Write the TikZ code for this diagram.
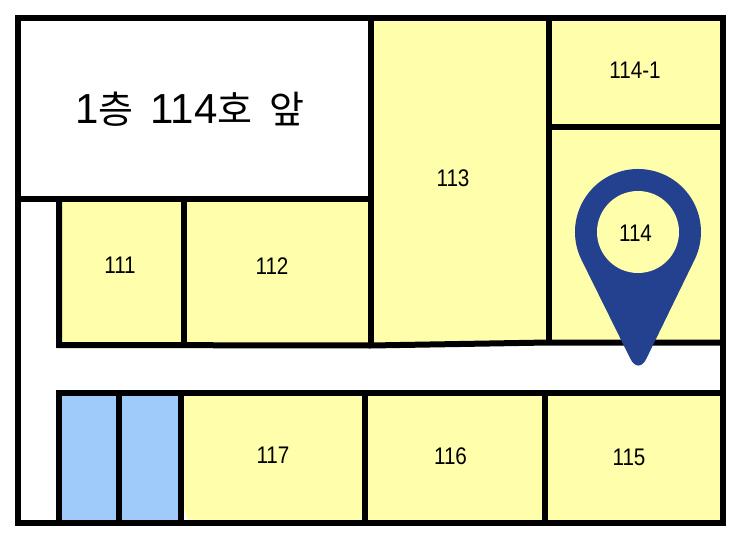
\documentclass[tikz,border=0pt]{standalone}
\usepackage{fontspec}
\usetikzlibrary{calc}
\setmainfont{Liberation Sans}[FakeStretch=0.86]
\newfontfamily\titlefont{Liberation Sans}
\newfontfamily\cjk{Noto Sans CJK KR}
\definecolor{roomyellow}{HTML}{FFFEAB}
\definecolor{roomblue}{HTML}{9FCBFB}
\definecolor{pinblue}{HTML}{24418F}
\tikzset{
	wall/.style={draw=black,line width=6pt,line join=miter},
	roomlabel/.style={inner sep=0pt,font=\fontsize{24}{24}\selectfont},
}
\newcommand{\hangul}[1]{{\cjk\fontsize{38}{38}\selectfont #1}}

\begin{document}
\begin{tikzpicture}[x=1pt,y=1pt]
	\useasboundingbox (0,0) rectangle (746,539);
	\coordinate (pin) at (638,307);
	\coordinate (pinstart) at ($(pin)+(206:63)$);
	\coordinate (tip) at (638.4,164);

	%room fills
	\fill[roomyellow] (370,520.5) -- (722.5,520.5) -- (722.5,196.5) -- (548,196.5) -- (370.5,194) -- cycle;
	\fill[roomyellow] (59,340) rectangle (370.5,194.5);
	\fill[roomyellow] (181,146.3) -- (722.5,146.3) -- (722.5,16) -- (190,16) .. controls (185,24) and (183.5,32) .. (183,39) -- (181,39) -- cycle;
	\fill[roomblue] (58.5,146.3) rectangle (181,16);

	%outer walls
	\draw[wall] (17.5,520.5) rectangle (722.5,16);

	%upper walls
	\draw[wall] (17.5,340) -- (370.5,340);
	\draw[wall] (370.5,520.5) -- (370.5,194);
	\draw[wall] (548.5,520.5) -- (548.5,196.5);
	\draw[wall] (548.5,411.5) -- (722.5,411.5);
	\draw[wall] (59,340) -- (59,194) -- (370.5,193.5) -- (548.5,196.5) -- (722.5,196.5);
	\draw[wall] (184,340) -- (184,194);

	%lower walls
	\draw[wall] (58.5,16) -- (58.5,146.3) -- (722.5,146.3);
	\foreach \i in {118.7,181,364.5,544.7}{
		\draw[wall] (\i,146.3) -- (\i,16);
	}

	%pin
	\fill[pinblue] (pinstart) arc[radius=63,start angle=206,end angle=-26] [rounded corners=18pt] -- (tip) [sharp corners] -- (pinstart) -- cycle;
	\fill[roomyellow] (pin) circle[radius=41];

	\foreach \x/\y/\t in {635/469/114-1,453/360.5/113,635.5/305.5/114,120/274/111,272/273/112,273/84/117,450.5/82.5/116,629/82/115}{
		\node[roomlabel] (room\t) at (\x,\y) {\t};
	}
	\node[inner sep=0pt] (title) at (190,430) {\titlefont\fontsize{42}{42}\selectfont 1\hangul{층}\hspace{17pt}114\hangul{호}\hspace{17pt}\hangul{앞}};
\end{tikzpicture}
\end{document}
